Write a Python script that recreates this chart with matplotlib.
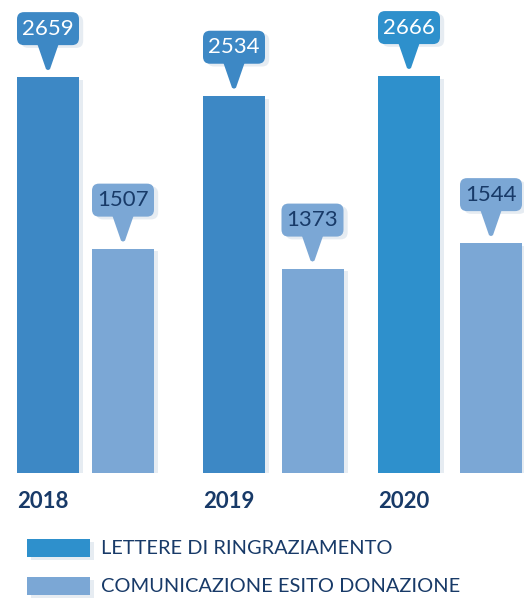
import matplotlib.pyplot as plt
import numpy as np
from matplotlib.patches import FancyBboxPatch, Polygon, Rectangle
import matplotlib.patheffects as pe

plt.rcParams['font.family'] = ['Lato', 'DejaVu Sans']

years = ['2018', '2019', '2020']
lettere = [2659, 2534, 2666]
esito = [1507, 1373, 1544]
series_labels = ['LETTERE DI RINGRAZIAMENTO', 'COMUNICAZIONE ESITO DONAZIONE']

# bar centre positions (layout, in pixel-like x units)
dark_pos = [48, 234, 409]
light_pos = [123, 312.5, 491]

dark_cols = ['#3D88C5', '#3D88C5', '#2E90CC']
light_col = '#7BA7D5'
legend_dark = '#2E90CC'
navy = '#183A68'

fig = plt.figure(figsize=(5.24, 5.99), dpi=100)
ax = fig.add_axes([0, 1 - 473 / 599, 1, 473 / 599])
ax.set_xlim(0, 524)
ax.set_ylim(0, 3177)
ax.axis('off')

w = 62
upx = 3177 / 473  # data units per pixel (y)

shadow = [pe.SimplePatchShadow(offset=(3, -2), shadow_rgbFace='#9fb6cc', alpha=0.25), pe.Normal()]

b1 = ax.bar(dark_pos, lettere, w, color=dark_cols, zorder=3)
b2 = ax.bar(light_pos, esito, w, color=light_col, zorder=3)
for b in list(b1) + list(b2):
    b.set_path_effects(shadow)


def callout(cx, val, face, tcol):
    bw = 62
    bh = 33 * upx
    base = val + 32 * upx
    tip = val + 7 * upx
    box = FancyBboxPatch((cx - bw / 2, base), bw, bh,
                         boxstyle='round,pad=0,rounding_size=7',
                         mutation_aspect=upx,
                         fc=face, ec='none', zorder=5)
    box.set_path_effects(shadow)
    ax.add_patch(box)
    tri = Polygon([[cx - 11, base + 2 * upx], [cx + 11, base + 2 * upx],
                   [cx + 2, tip + 1 * upx], [cx, tip], [cx - 2, tip + 1 * upx]],
                  closed=True, fc=face, ec='none', zorder=5)
    ax.add_patch(tri)
    ax.text(cx, base + bh / 2, f'{val}', ha='center', va='center',
            fontsize=16, color=tcol, zorder=6)


for i in range(len(years)):
    callout(dark_pos[i], lettere[i], dark_cols[i], 'white')
    callout(light_pos[i], esito[i], light_col, navy)
    ax.text(dark_pos[i] - w / 2, -28 * upx, years[i], ha='left', va='center',
            fontsize=16, fontweight='bold', color=navy, clip_on=False)

# legend
for j, (lab, col) in enumerate(zip(series_labels, [legend_dark, light_col])):
    ytop = 539 + j * 38
    r = Rectangle((27 / 524, 1 - (ytop + 18) / 599), 63 / 524, 18 / 599,
                  transform=fig.transFigure, fc=col, ec='none')
    r.set_path_effects(shadow)
    fig.patches.append(r)
    fig.text(101 / 524, 1 - (ytop + 9) / 599, lab, ha='left', va='center',
             fontsize=14.4, color=navy)

fig.savefig('out.png', dpi=100)
